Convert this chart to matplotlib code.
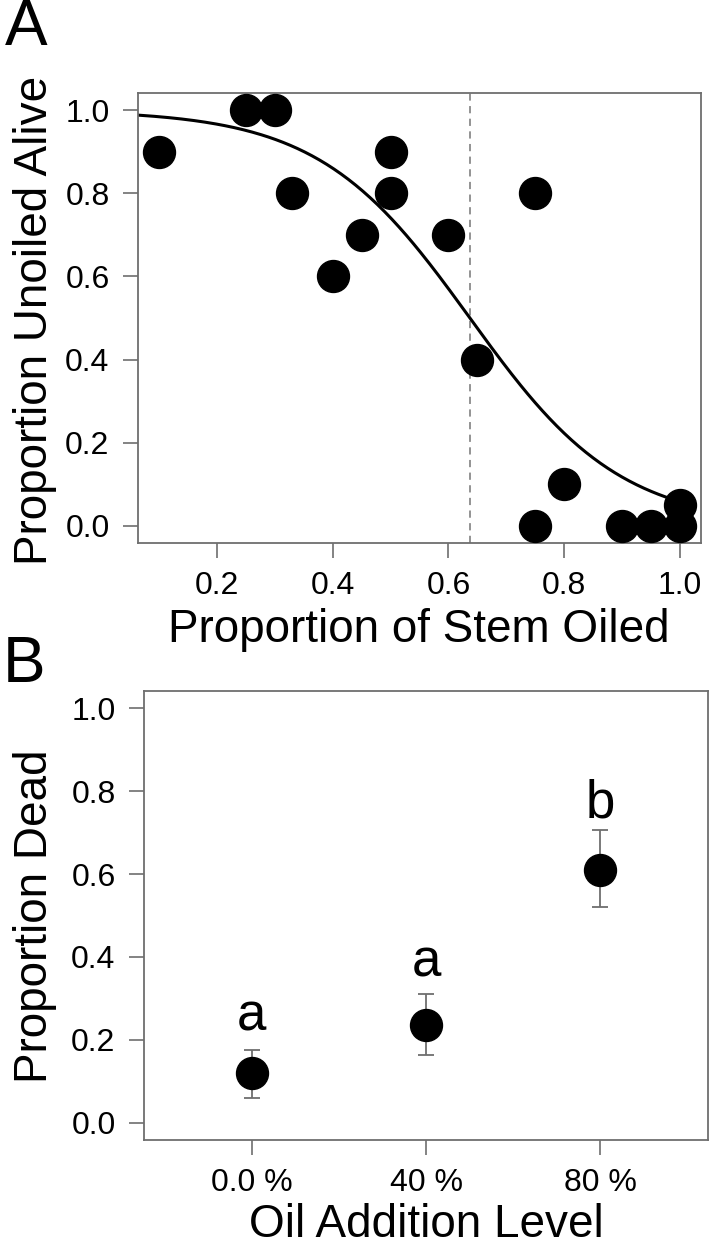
import numpy as np
import matplotlib
matplotlib.use("Agg")
import matplotlib.pyplot as plt

plt.rcParams['font.family'] = ['Liberation Sans', 'DejaVu Sans']

# Panel A data
stem_oiled = [0.10, 0.25, 0.30, 0.33, 0.40, 0.45, 0.50, 0.50, 0.60, 0.65, 0.75, 0.75, 0.80, 0.90, 0.95, 1.00, 1.00]
unoiled_alive = [0.90, 1.00, 1.00, 0.80, 0.60, 0.70, 0.90, 0.80, 0.70, 0.40, 0.80, 0.00, 0.10, 0.00, 0.00, 0.00, 0.05]
ld50 = 0.637
slope = 7.67
a_xticks = [0.2, 0.4, 0.6, 0.8, 1.0]
a_xticklabels = ["0.2", "0.4", "0.6", "0.8", "1.0"]
yticks = [0.0, 0.2, 0.4, 0.6, 0.8, 1.0]
yticklabels = ["0.0", "0.2", "0.4", "0.6", "0.8", "1.0"]

# Panel B data
oil_levels = ["0.0 %", "40 %", "80 %"]
prop_dead = [0.12, 0.235, 0.61]
err_low = [0.06, 0.165, 0.52]
err_high = [0.175, 0.31, 0.705]
letters = ["a", "a", "b"]
letter_y = [0.224, 0.352, 0.735]

W, H = 714, 1250
fig = plt.figure(figsize=(W / 100, H / 100), dpi=100)

spine_c = '#6e6e6e'
TICK_FS = 23
LAB_FS = 33

def px_axes(l, t, r, b):
    return fig.add_axes([l / W, 1 - b / H, (r - l) / W, (b - t) / H])

# ---------- Panel A ----------
ax = px_axes(138, 93, 701, 543)
xs = np.linspace(0.064, 1.0, 300)
ax.plot(xs, 1 / (1 + np.exp(slope * (xs - ld50))), color='black', lw=2.2, zorder=2)
ax.axvline(ld50, color='#8a8a8a', lw=1.3, ls=(0, (4, 3)), zorder=1)
ax.plot(stem_oiled, unoiled_alive, 'o', ms=23, color='black', mec='black', zorder=3)
ax.set_xlim(0.064, 1.036)
ax.set_ylim(-0.041, 1.041)
ax.set_xticks(a_xticks)
ax.set_xticklabels(a_xticklabels, fontsize=TICK_FS)
ax.set_yticks(yticks)
ax.set_yticklabels(yticklabels, fontsize=TICK_FS)

# ---------- Panel B ----------
bx = px_axes(144, 691, 708, 1140)
xpos = np.arange(1, len(oil_levels) + 1)
yerr = [np.array(prop_dead) - np.array(err_low), np.array(err_high) - np.array(prop_dead)]
bx.errorbar(xpos, prop_dead, yerr=yerr, fmt='none', ecolor='#6e6e6e', elinewidth=1.3,
            capsize=5.8, capthick=1.3, zorder=2)
bx.plot(xpos, prop_dead, 'o', ms=23, color='black', zorder=3)
for x, y, t in zip(xpos, letter_y, letters):
    bx.text(x, y, t, ha='center', va='baseline', fontsize=38)
bx.set_xlim(0.38, 3.62)
bx.set_ylim(-0.041, 1.041)
bx.set_xticks(xpos)
bx.set_xticklabels(oil_levels, fontsize=TICK_FS)
bx.set_yticks(yticks)
bx.set_yticklabels(yticklabels, fontsize=TICK_FS)

for a in (ax, bx):
    for s in a.spines.values():
        s.set_color(spine_c)
        s.set_linewidth(1.3)
    a.tick_params(axis='both', direction='out', length=10.5, width=1.2, color=spine_c, pad=10)

# Labels
fig.text(35 / W, 1 - 320 / H, "Proportion Unoiled Alive", rotation=90, ha='center', va='center', fontsize=LAB_FS)
fig.text(419 / W, 1 - 630 / H, "Proportion of Stem Oiled", ha='center', va='center', fontsize=LAB_FS)
fig.text(35 / W, 1 - 916 / H, "Proportion Dead", rotation=90, ha='center', va='center', fontsize=LAB_FS)
fig.text(426 / W, 1 - 1225 / H, "Oil Addition Level", ha='center', va='center', fontsize=LAB_FS)

fig.text(5 / W, 1 - 28 / H, "A", ha='left', va='center', fontsize=46)
fig.text(3 / W, 1 - 665 / H, "B", ha='left', va='center', fontsize=46)

fig.savefig("out.png", dpi=100)
